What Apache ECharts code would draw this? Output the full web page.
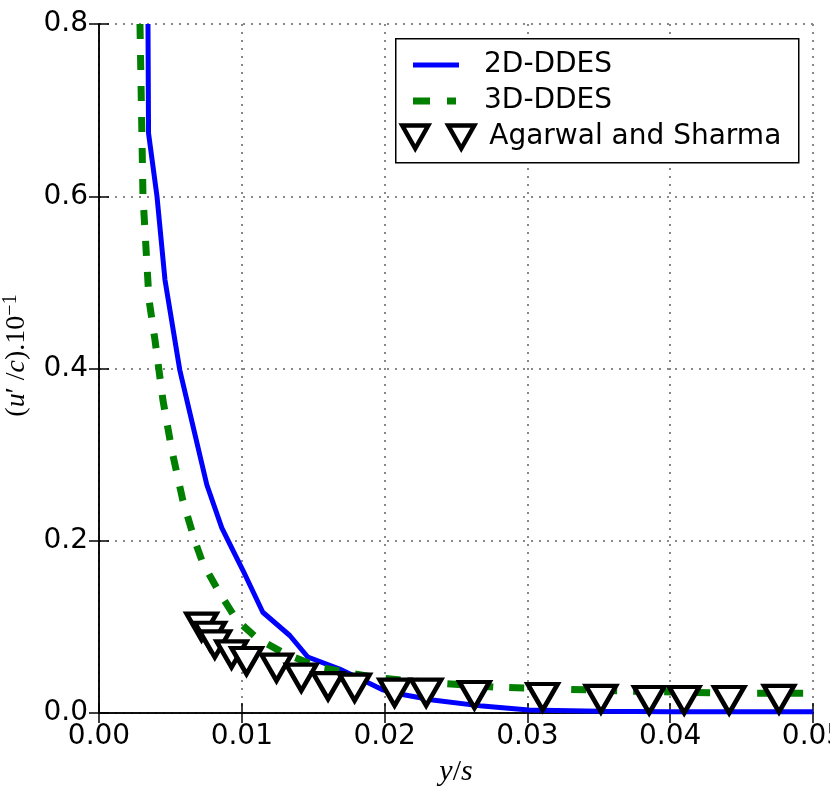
<!DOCTYPE html>
<html>
<head>
<meta charset="utf-8">
<script src="https://cdn.jsdelivr.net/npm/echarts@6/dist/echarts.min.js"></script>
<style>
html,body{margin:0;padding:0;background:#fff;}
#chart{width:830px;height:794px;}
</style>
</head>
<body>
<div id="chart"></div>
<script>
// ---- data ----
var x2d = [0.00343, 0.00347, 0.00406, 0.00462, 0.00566, 0.00657, 0.00755, 0.0086, 0.00937, 0.01007, 0.01147, 0.01336, 0.01462, 0.01685, 0.01874, 0.01986, 0.02105, 0.02336, 0.02685, 0.0301, 0.035, 0.04, 0.045, 0.05];
var y2d = [0.8, 0.673, 0.6, 0.503, 0.398, 0.334, 0.265, 0.215, 0.189, 0.166, 0.117, 0.090, 0.065, 0.051, 0.036, 0.027, 0.022, 0.015, 0.008, 0.0035, 0.002, 0.0015, 0.0015, 0.0015];

var x3d = [0.00287, 0.00308, 0.0035, 0.00392, 0.00448, 0.0051, 0.00587, 0.00671, 0.00727, 0.00846, 0.00965, 0.01105, 0.01300, 0.01545, 0.0194, 0.0234, 0.0278, 0.0369, 0.0443, 0.05];
var y3d = [0.8, 0.6, 0.48, 0.433, 0.363, 0.305, 0.247, 0.2, 0.174, 0.139, 0.108, 0.087, 0.069, 0.053, 0.041, 0.035, 0.030, 0.0255, 0.023, 0.023];

var xExp = [0.00718, 0.00776, 0.00811, 0.00928, 0.01033, 0.01243, 0.01417, 0.01604, 0.01790, 0.02070, 0.02291, 0.02629, 0.03107, 0.03515, 0.03853, 0.04098, 0.04413, 0.04762];
var yExp = [0.1002, 0.0897, 0.0797, 0.0681, 0.0604, 0.0526, 0.0410, 0.0313, 0.0294, 0.0236, 0.0236, 0.0209, 0.0186, 0.0163, 0.0151, 0.0151, 0.0151, 0.0163];

var seriesNames = ['2D-DDES', '3D-DDES', 'Agarwal and Sharma'];
var xTickDecimals = 2;
var yTickDecimals = 1;

function pairs(xs, ys) { return xs.map(function (x, i) { return [x, ys[i]]; }); }

var tickFont = 'DejaVu Sans';
var chart = echarts.init(document.getElementById('chart'), null, {renderer: 'canvas'});

var axisCommon = {
  axisLine: {show: true, lineStyle: {color: '#000', width: 1.5}},
  axisTick: {show: true, inside: true, length: 10, lineStyle: {color: '#000', width: 1.5}},
  splitLine: {show: false}
};

var legendText = {fontFamily: tickFont, fontSize: 28, color: '#000', lineHeight: 30};

var option = {
  backgroundColor: '#fff',
  animation: false,
  grid: {left: 99, right: 17, top: 24, bottom: 81, containLabel: false, outerBoundsMode: 'none'},
  xAxis: [
    Object.assign({}, axisCommon, {
      type: 'value', min: 0, max: 0.05, interval: 0.01, position: 'bottom',
      axisLabel: {show: true, color: '#000', fontFamily: tickFont, fontSize: 28, margin: 10,
        hideOverlap: false,
        formatter: function (v) { return v.toFixed(xTickDecimals); }},
      splitLine: {show: true, lineStyle: {color: '#888', width: 2, type: [2, 6]}},
      name: '{i|y}{r|/}{i|s}',
      nameLocation: 'middle', nameGap: 44,
      nameTextStyle: {
        rich: {
          i: {fontFamily: 'Liberation Serif', fontStyle: 'italic', fontSize: 30, color: '#000'},
          r: {fontFamily: 'Liberation Serif', fontSize: 30, color: '#000'}
        }
      }
    }),
    Object.assign({}, axisCommon, {
      type: 'value', min: 0, max: 0.05, interval: 0.01, position: 'top',
      axisLabel: {show: false}
    })
  ],
  yAxis: [
    Object.assign({}, axisCommon, {
      type: 'value', min: 0, max: 0.8, interval: 0.2, position: 'left',
      axisLabel: {show: true, color: '#000', fontFamily: tickFont, fontSize: 28, margin: 11,
        formatter: function (v) { return v.toFixed(yTickDecimals); }},
      splitLine: {show: true, lineStyle: {color: '#888', width: 2, type: [2, 6]}},
      name: '{r|(}{i|u}{r|′ /}{i|c}{r|).10}{s|−1}',
      nameLocation: 'middle', nameGap: 62, nameRotate: 90,
      nameTextStyle: {
        padding: [0, 0, 0, 26],
        rich: {
          i: {fontFamily: 'Liberation Serif', fontStyle: 'italic', fontSize: 28, color: '#000', lineHeight: 32},
          r: {fontFamily: 'Liberation Serif', fontSize: 28, color: '#000', lineHeight: 32},
          s: {fontFamily: 'Liberation Serif', fontSize: 20, color: '#000', verticalAlign: 'top', lineHeight: 32, padding: [0, 0, 12, 0]}
        }
      }
    }),
    Object.assign({}, axisCommon, {
      type: 'value', min: 0, max: 0.8, interval: 0.2, position: 'right',
      axisLabel: {show: false}
    })
  ],
  graphic: [{
    type: 'rect', left: 395, top: 38, z: 100,
    shape: {width: 403, height: 124},
    style: {fill: '#fff', stroke: '#000', lineWidth: 1.5}
  }],
  legend: [
    {
      data: [{name: seriesNames[0], icon: 'path://M0,0L46,0L46,5L0,5Z'}],
      left: 408, top: 45, itemWidth: 46, itemHeight: 5, z: 110,
      selectedMode: false,
      textStyle: Object.assign({padding: [0, 0, 0, 20]}, legendText),
      itemStyle: {color: '#0000ff', borderWidth: 0}
    },
    {
      data: [{name: seriesNames[1], icon: 'path://M0,0L17,0L17,7L0,7ZM34,0L43,0L43,7L34,7Z'}],
      left: 408, top: 81, itemWidth: 43, itemHeight: 7, z: 110,
      selectedMode: false,
      textStyle: Object.assign({padding: [0, 0, 0, 23]}, legendText),
      itemStyle: {color: '#007f00', borderWidth: 0}
    },
    {
      data: [{name: seriesNames[2], icon: 'path://M0,0L26,0L13,23ZM46,0L72,0L59,23Z'}],
      left: 395, top: 117, itemWidth: 72, itemHeight: 23, z: 110,
      selectedMode: false,
      textStyle: Object.assign({padding: [0, 0, 0, 10]}, legendText),
      itemStyle: {color: '#fff', borderColor: '#000', borderWidth: 4.5}
    }
  ],
  series: [
    {
      name: seriesNames[0], type: 'line', xAxisIndex: 0, yAxisIndex: 0,
      data: pairs(x2d, y2d), symbol: 'none', smooth: false, z: 2,
      lineStyle: {color: '#0000ff', width: 5},
      itemStyle: {color: '#0000ff'}
    },
    {
      name: seriesNames[1], type: 'line', xAxisIndex: 0, yAxisIndex: 0,
      data: pairs(x3d, y3d), symbol: 'none', smooth: false, z: 3,
      lineStyle: {color: '#007f00', width: 7, type: [15, 16]},
      itemStyle: {color: '#007f00'}
    },
    {
      name: seriesNames[2], type: 'scatter', xAxisIndex: 0, yAxisIndex: 0,
      data: pairs(xExp, yExp), symbol: 'triangle', symbolRotate: 180, symbolSize: [30, 26], z: 4,
      itemStyle: {color: '#fff', borderColor: '#000', borderWidth: 4.5, opacity: 1}
    }
  ]
};
chart.setOption(option);
</script>
</body>
</html>
